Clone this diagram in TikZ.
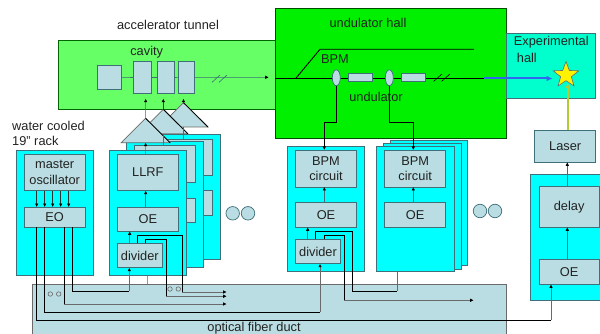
\documentclass[tikz,border=0pt]{standalone}
\usepackage{fontspec}
\setmainfont{Liberation Sans}
\usetikzlibrary{arrows.meta,shapes.geometric}
\definecolor{boxc}{HTML}{B9DDE2}
\definecolor{edgec}{HTML}{3F6F78}
\definecolor{rackc}{HTML}{00FFFF}
\definecolor{tunc}{HTML}{66FF66}
\definecolor{undc}{HTML}{00F000}
\definecolor{expc}{HTML}{00FFCC}
\definecolor{txt}{HTML}{222222}
\definecolor{grayl}{HTML}{6A6A6A}
\definecolor{beamb}{HTML}{3366F0}
\definecolor{lasc}{HTML}{B4CC33}
\newcommand\bx[7][boxn]{%
  \pgfmathsetmacro\bw{#5-#3}\pgfmathsetmacro\bh{#6-#4}%
  \node[#1,anchor=north west,minimum width=\bw pt,minimum height=\bh pt] (#2) at (#3,#4) {#7};}
\tikzset{
  basen/.style={inner sep=0pt,outer sep=0pt,align=center,text=txt,line width=0.9pt},
  boxn/.style={basen,draw=edgec,fill=boxc},
  rackn/.style={basen,draw=edgec,fill=rackc},
  tunnel/.style={basen,draw=black!60!green,fill=tunc},
  uhall/.style={basen,draw=black!70!green,fill=undc},
  ehall/.style={basen,draw=edgec,fill=expc},
  duct/.style={basen,draw=grayl,fill=boxc},
  lab/.style={inner sep=0pt,text=txt,align=left},
  thin/.style={draw=edgec,line width=0.6pt},
  thinarr/.style={thin,-{Latex[length=3.5pt,width=3.5pt,black]}},
  fiber/.style={draw=black,line width=0.9pt},
  gline/.style={draw=grayl,line width=0.9pt},
  garr/.style={gline,-{Latex[length=3.5pt,width=3.5pt,black]}},
  blk/.style={draw=black!80,line width=0.5pt},
  blkarr/.style={blk,-{Latex[length=3.5pt,width=3.5pt,black]}},
  dots/.style={circle,draw=edgec,fill=boxc,inner sep=0pt,minimum size=13.5pt,line width=0.7pt},
  sdots/.style={circle,draw=grayl,fill=boxc,inner sep=0pt,minimum size=4.5pt,line width=0.6pt},
  bpmn/.style={ellipse,draw=edgec,fill=boxc,inner sep=0pt,outer sep=0pt,minimum width=8pt,minimum height=16pt,line width=0.7pt}
}
\begin{document}
\begin{tikzpicture}[x=1pt,y=-1pt,font=\fontsize{12.8}{15.5}\selectfont]
\useasboundingbox (0,0) rectangle (600,334);
% halls
\bx[tunnel]{tun}{58}{40}{280}{109}{}
\bx[uhall]{uh}{275.3}{8.5}{506.7}{138}{}
\bx[ehall]{eh}{506.7}{33}{595.7}{98}{}
% duct
\bx[duct]{dct}{32.3}{284}{506.7}{340}{}
% racks: rack 1
\bx[rackn]{r1}{16}{150}{93.7}{275.7}{}
% LLRF stack (back to front)
\bx[rackn]{r2c}{143}{134.3}{220}{259.7}{}
\bx[boxn]{l2c}{152}{139}{212.7}{175.3}{}
\bx[boxn]{o2c}{152}{190.7}{212.7}{215}{}
\bx[rackn]{r2b}{126.7}{141.7}{203.7}{267}{}
\bx[boxn]{l2b}{134.7}{145.3}{195.7}{182.3}{}
\bx[boxn]{o2b}{134.7}{198.3}{195.7}{222.3}{}
\bx[rackn]{r2a}{109.3}{150}{186.7}{275.7}{}
% BPM rack
\bx[rackn]{r3}{287.3}{146}{364.7}{271.3}{}
% second BPM stack
\bx[rackn]{r4c}{390}{140}{467.3}{265.7}{}
\bx[rackn]{r4b}{383.7}{143.3}{461}{269}{}
\bx[rackn]{r4a}{376.7}{146}{454}{271.3}{}
% right rack
\bx[rackn]{r5}{530.7}{174.3}{604}{300.3}{}
% boxes
\bx{mo}{24}{154.3}{85.3}{190.7}{master\\oscillator}
\bx{eo}{24}{207}{85.3}{227.3}{EO}
\bx{llrf}{117.3}{154.3}{178.3}{190.7}{LLRF}
\bx{oe2}{117.3}{207}{178.3}{231.3}{OE}
\bx{div2}{117.3}{243.3}{162.3}{267.7}{divider}
\bx{bc3}{295.3}{150}{356.7}{187}{BPM\\circuit}
\bx{oe3}{295.3}{202.7}{356.7}{227.3}{OE}
\bx{div3}{295.3}{239.3}{340.7}{263.7}{divider}
\bx{bc4}{384.7}{150}{445.7}{187}{BPM\\circuit}
\bx{oe4}{384.7}{202.7}{445.7}{227.3}{OE}
\bx{lsr}{534.7}{130.3}{595.7}{162.3}{Laser}
\bx{dly}{539}{186.7}{599.3}{227.3}{delay}
\bx{oe5}{539}{259.3}{599.3}{284.3}{OE}
% cavity
\bx{c0}{97.3}{65.3}{121.7}{89.3}{}
\bx{c1}{133.3}{61.3}{151.7}{93.7}{}
\bx{c2}{157.3}{61.3}{174.7}{93.7}{}
\bx{c3}{178.3}{61}{194.7}{93.7}{}
\draw[thin] (c0.east) -- (c1.west);
\draw[thin] (c1.east) -- (c2.west);
\draw[thin] (c2.east) -- (c3.west);
\coordinate (tunend) at (268.7,77.3);
\draw[thinarr] (c3.east) -- (tunend);
\coordinate (s1a) at (212,82.3); \coordinate (s1b) at (220,75);
\coordinate (s2a) at (219,82.3); \coordinate (s2b) at (227,75);
\draw[thin] (s1a) -- (s1b);
\draw[thin] (s2a) -- (s2b);
% triangles
\foreach \nm/\xx/\ytop/\ybot in {t3/183.5/102.7/127,t2/163.3/109.3/133.7,t1/145.6/118.3/142.7}{
  \coordinate (\nm a) at (\xx,\ytop);
  \coordinate (\nm l) at (\xx-24.5,\ybot);
  \coordinate (\nm r) at (\xx+24.5,\ybot);
  \coordinate (\nm b) at (\xx,\ybot);
  \filldraw[fill=boxc,draw=grayl,line width=0.7pt] (\nm a) -- (\nm r) -- (\nm l) -- cycle;
  \draw[draw=black,line width=0.8pt] (\nm a) -- (\nm r);
}
% amp connections
\coordinate (in1) at (145.7,98.7); \coordinate (in2) at (163.3,98.7); \coordinate (in3) at (183.5,98.7);
\draw[thinarr] (t1a) -- (in1);
\draw[blkarr] (t2a) -- (in2);
\draw[blkarr] (t3a) -- (in3);
\draw[thinarr] (145.7,0 |- llrf.north) -- (t1b);
\draw[thin] (l2b.north -| t2b) -- (t2b);
\draw[thin] (l2c.north -| t3b) -- (t3b);
% undulator hall
\coordinate (bl0) at (275.3,78.5);
\coordinate (bl1) at (295.7,78.5);
\coordinate (bl2) at (320,49.3);
\coordinate (bl3) at (474,49.3);
\coordinate (bl4) at (484,78.5);
\coordinate (bl5) at (552.7,78.5);
\draw[fiber] (bl1) -- (bl2) -- (bl3);
\draw[fiber] (bl0) -- (bl4);
\draw[draw=beamb,line width=2pt,-{Latex[length=6pt,width=5.5pt]}] (bl4) -- (bl5);
\node[bpmn] (e1) at (336.3,77.8) {};
\node[bpmn] (e2) at (389.3,77.8) {};
\bx{u1}{348.3}{73.3}{372.7}{81.3}{}
\bx{u2}{401.3}{73.3}{425.7}{81.3}{}
\coordinate (u1a) at (433.5,81.5); \coordinate (u1b) at (442,74);
\coordinate (u2a) at (441.5,81.5); \coordinate (u2b) at (450,74);
\draw[fiber,line width=0.6pt] (u1a) -- (u1b);
\draw[fiber,line width=0.6pt] (u2a) -- (u2b);
\draw[fiber,-{Latex[length=3.5pt,width=3.5pt]}] (e1.south) |- (324.3,122.3) -- (324.3,0 |- bc3.north);
\draw[fiber,-{Latex[length=3.5pt,width=3.5pt]}] (e2.south) |- (413.3,122.3) -- (413.3,0 |- bc4.north);
% star
\node[star,star points=5,star point ratio=2.4,minimum size=27pt,inner sep=0pt,draw=grayl,fill=yellow,line width=0.6pt] (st) at (566,75) {};
\coordinate (stin) at (567.7,83);
\draw[draw=lasc,line width=1.8pt,-{Latex[length=5pt,width=5pt]}] (567.7,0 |- lsr.north) -- (stin);
% right-side arrows
\draw[thinarr] (567.3,0 |- oe5.north) -- (567.3,0 |- dly.south);
\draw[thinarr] (567.3,0 |- dly.north) -- (567.3,0 |- lsr.south);
% rack 1 arrows
\foreach \xx in {36.7,44.7,52.7,60.7,68.7}{
  \draw[blkarr] (\xx,0 |- mo.south) -- (\xx,0 |- eo.north);
}
% vertical chains
\draw[thinarr] (145.7,0 |- oe2.north) -- (145.7,0 |- llrf.south);
\draw[thinarr] (129.7,0 |- div2.north) -- (129.7,0 |- oe2.south);
\draw[thinarr] (324.3,0 |- oe3.north) -- (324.3,0 |- bc3.south);
\draw[thinarr] (307.7,0 |- div3.north) -- (307.7,0 |- oe3.south);
\draw[thinarr] (413.3,0 |- oe4.north) -- (413.3,0 |- bc4.south);
% ellipsis dots
\node[dots] (d1) at (232.7,213.3) {};
\node[dots] (d2) at (248,213.3) {};
\node[dots] (d3) at (480,211) {};
\node[dots] (d4) at (495,211) {};
\node[sdots] (d5) at (50.3,294) {};
\node[sdots] (d6) at (58.7,294) {};
\node[sdots] (d7) at (170,289) {};
\node[sdots] (d8) at (178.3,289) {};
% stubs from racks to duct
\draw[draw=grayl!70,line width=0.8pt] (147.3,0 |- r2a.south) -- (147.3,0 |- dct.north);
% fibers from EO
\coordinate (f1) at (36.3,320.3);
\coordinate (f1e) at (551,320.3);
\draw[fiber] (36.3,0 |- eo.south) -- (f1) -- (f1e);
\draw[garr] (f1e) -- (551,0 |- oe5.south);
\coordinate (f2) at (44.3,312.3);
\coordinate (f2e) at (320,312.3);
\draw[fiber] (44.3,0 |- eo.south) -- (f2) -- (f2e);
\draw[garr] (f2e) -- (320,0 |- div3.south);
\coordinate (f3) at (64.3,304);
\coordinate (f3e) at (226.7,304);
\draw[fiber] (64.3,0 |- eo.south) -- (f3);
\draw[garr] (f3) -- (f3e);
\coordinate (f4) at (72.3,291.3);
\coordinate (f4e) at (129.3,291.3);
\draw[fiber] (72.3,0 |- eo.south) -- (f4) -- (f4e);
\draw[garr] (f4e) -- (129.3,0 |- div2.south);
% divider 2 outputs
\coordinate (g1a) at (137.3,235.7); \coordinate (g1b) at (182.3,235.7);
\coordinate (g1c) at (182.3,292); \coordinate (g1d) at (226.7,292);
\draw[fiber] (137.3,0 |- div2.north) -- (g1a) -- (g1b) -- (g1c);
\draw[garr] (g1c) -- (g1d);
\coordinate (g2a) at (145.7,239.3); \coordinate (g2b) at (166.3,239.3);
\coordinate (g2c) at (166.3,296.3); \coordinate (g2d) at (226.7,296.3);
\draw[fiber] (145.7,0 |- div2.north) -- (g2a) -- (g2b) -- (g2c);
\draw[garr] (g2c) -- (g2d);
% divider 3 outputs
\coordinate (h1a) at (315.3,231.3); \coordinate (h1b) at (352,231.3);
\coordinate (h1c) at (352,291.3); \coordinate (h1d) at (397.3,291.3);
\draw[fiber] (315.3,0 |- div3.north) -- (h1a) -- (h1b) -- (h1c) -- (h1d);
\draw[gline] (h1d) -- (397.3,0 |- r4a.south);
\coordinate (h2a) at (324.3,235.3); \coordinate (h2b) at (344.3,235.3);
\coordinate (h2c) at (344.3,300.3); \coordinate (h2d) at (473.7,300.3);
\draw[fiber] (324.3,0 |- div3.north) -- (h2a) -- (h2b) -- (h2c);
\draw[garr] (h2c) -- (h2d);
% labels
\node[lab] (la) at (168,25) {accelerator tunnel};
\node[lab] (lb) at (146.7,52) {cavity};
\node[lab,anchor=west] (lc) at (12,133.5) {water cooled\\19” rack};
\node[lab] (ld) at (368,23) {undulator hall};
\node[lab] (le) at (335,59.5) {BPM};
\node[lab] (lf) at (376,97) {undulator};
\node[lab,anchor=west] (lg) at (513.7,42) {Experimental};
\node[lab,anchor=west] (lh) at (516.7,57.5) {hall};
\node[lab] (li) at (254,328) {optical fiber duct};
\end{tikzpicture}
\end{document}
